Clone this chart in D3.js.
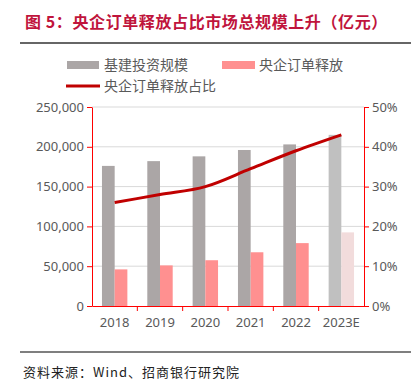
<!DOCTYPE html>
<html>
<head>
<meta charset="utf-8">
<script src="https://cdn.jsdelivr.net/npm/d3@7"></script>
<style>
  body { margin: 0; background: #fff; }
  svg { display: block; font-family: "Noto Sans CJK SC", "Noto Sans", sans-serif; }
</style>
</head>
<body>
<svg width="411" height="384"></svg>
<script>
let years = ["2018", "2019", "2020", "2021", "2022", "2023E"];
let investment = [176000, 182000, 188000, 196000, 203000, 215000];
let soeOrders = [46000, 51000, 57500, 67500, 79000, 92500];
let soeShare = [0.26, 0.28, 0.30, 0.345, 0.39, 0.43];
let leftTicks = [0, 50000, 100000, 150000, 200000, 250000];
let rightTicks = [0, 0.1, 0.2, 0.3, 0.4, 0.5];

let svg = d3.select('svg');
let plotL = 92, plotR = 364, plotT = 107, plotB = 306;

// title + rules
svg.append('text').attr('x', 25).attr('y', 28)
    .attr('fill', '#c0143c').attr('font-size', 16).attr('font-weight', 'bold')
    .attr('letter-spacing', 0.6)
    .text('图 5：央企订单释放占比市场总规模上升（亿元）');
svg.append('line').attr('x1', 20).attr('x2', 411).attr('y1', 43).attr('y2', 43)
    .attr('stroke', '#333').attr('stroke-width', 1.5);
svg.append('line').attr('x1', 20).attr('x2', 411).attr('y1', 352).attr('y2', 352)
    .attr('stroke', '#555').attr('stroke-width', 1.5);
svg.append('text').attr('x', 23).attr('y', 377)
    .attr('fill', '#222').attr('font-size', 13).attr('letter-spacing', 1)
    .text('资料来源：Wind、招商银行研究院');

let x = d3.scaleBand().domain(years).range([plotL, plotR]);
let y = d3.scaleLinear().domain([0, 250000]).range([plotB, plotT]);
let y2 = d3.scaleLinear().domain([0, 0.5]).range([plotB, plotT]);

// gridlines
svg.append('g').selectAll('line').data(leftTicks.slice(1)).enter().append('line')
    .attr('x1', plotL).attr('x2', plotR)
    .attr('y1', d => y(d)).attr('y2', d => y(d))
    .attr('stroke', '#d9d9d9');

let bw = 12.7;
let grayC = d => d === '2023E' ? '#c0c0c0' : '#aba6a6';
let pinkC = d => d === '2023E' ? '#f2dcdc' : '#ff9090';

svg.append('g').selectAll('rect').data(years).enter().append('rect')
    .attr('x', d => x(d) + x.bandwidth() / 2 - bw)
    .attr('y', (d, i) => y(investment[i]))
    .attr('width', bw)
    .attr('height', (d, i) => plotB - y(investment[i]))
    .attr('fill', grayC);

svg.append('g').selectAll('rect').data(years).enter().append('rect')
    .attr('x', d => x(d) + x.bandwidth() / 2)
    .attr('y', (d, i) => y(soeOrders[i]))
    .attr('width', bw)
    .attr('height', (d, i) => plotB - y(soeOrders[i]))
    .attr('fill', pinkC);

let line = d3.line()
    .x((d, i) => x(years[i]) + x.bandwidth() / 2)
    .y(d => y2(d))
    .curve(d3.curveMonotoneX);
svg.append('path').datum(soeShare).attr('d', line)
    .attr('fill', 'none').attr('stroke', '#c00000').attr('stroke-width', 3);

// axes
let axisStyle = g => {
    g.selectAll('.domain, line').attr('stroke', '#ff0000');
    g.selectAll('text').attr('fill', '#595959').attr('font-size', 13)
        .attr('font-family', '"Noto Sans", sans-serif');
};
svg.append('g').attr('transform', 'translate(' + plotL + ',0)')
    .call(d3.axisLeft(y).tickValues(leftTicks).tickSize(5).tickSizeOuter(0)
        .tickFormat(d3.format(',')))
    .call(axisStyle);
svg.append('g').attr('transform', 'translate(' + plotR + ',0)')
    .call(d3.axisRight(y2).tickValues(rightTicks).tickSize(5).tickSizeOuter(0)
        .tickFormat(d3.format('.0%')))
    .call(axisStyle);
let xa = svg.append('g').attr('transform', 'translate(0,' + plotB + ')')
    .call(d3.axisBottom(x).tickSize(0).tickPadding(12))
    .call(axisStyle);
xa.selectAll('.sep').data(years.slice(1)).enter().append('line')
    .attr('x1', d => x(d)).attr('x2', d => x(d))
    .attr('y1', 0).attr('y2', 5).attr('stroke', '#ff0000');

// legend
let lg = svg.append('g').attr('font-size', 14).attr('fill', '#595959');
lg.append('rect').attr('x', 67).attr('y', 61).attr('width', 32).attr('height', 8).attr('fill', '#aba6a6');
lg.append('text').attr('x', 104).attr('y', 70).attr('fill', '#595959').text('基建投资规模');
lg.append('rect').attr('x', 222).attr('y', 61).attr('width', 33).attr('height', 8).attr('fill', '#ff9090');
lg.append('text').attr('x', 259).attr('y', 70).attr('fill', '#595959').text('央企订单释放');
lg.append('line').attr('x1', 66).attr('x2', 100).attr('y1', 86).attr('y2', 86)
    .attr('stroke', '#c00000').attr('stroke-width', 3);
lg.append('text').attr('x', 104).attr('y', 91).attr('fill', '#595959').text('央企订单释放占比');
</script>
</body>
</html>
